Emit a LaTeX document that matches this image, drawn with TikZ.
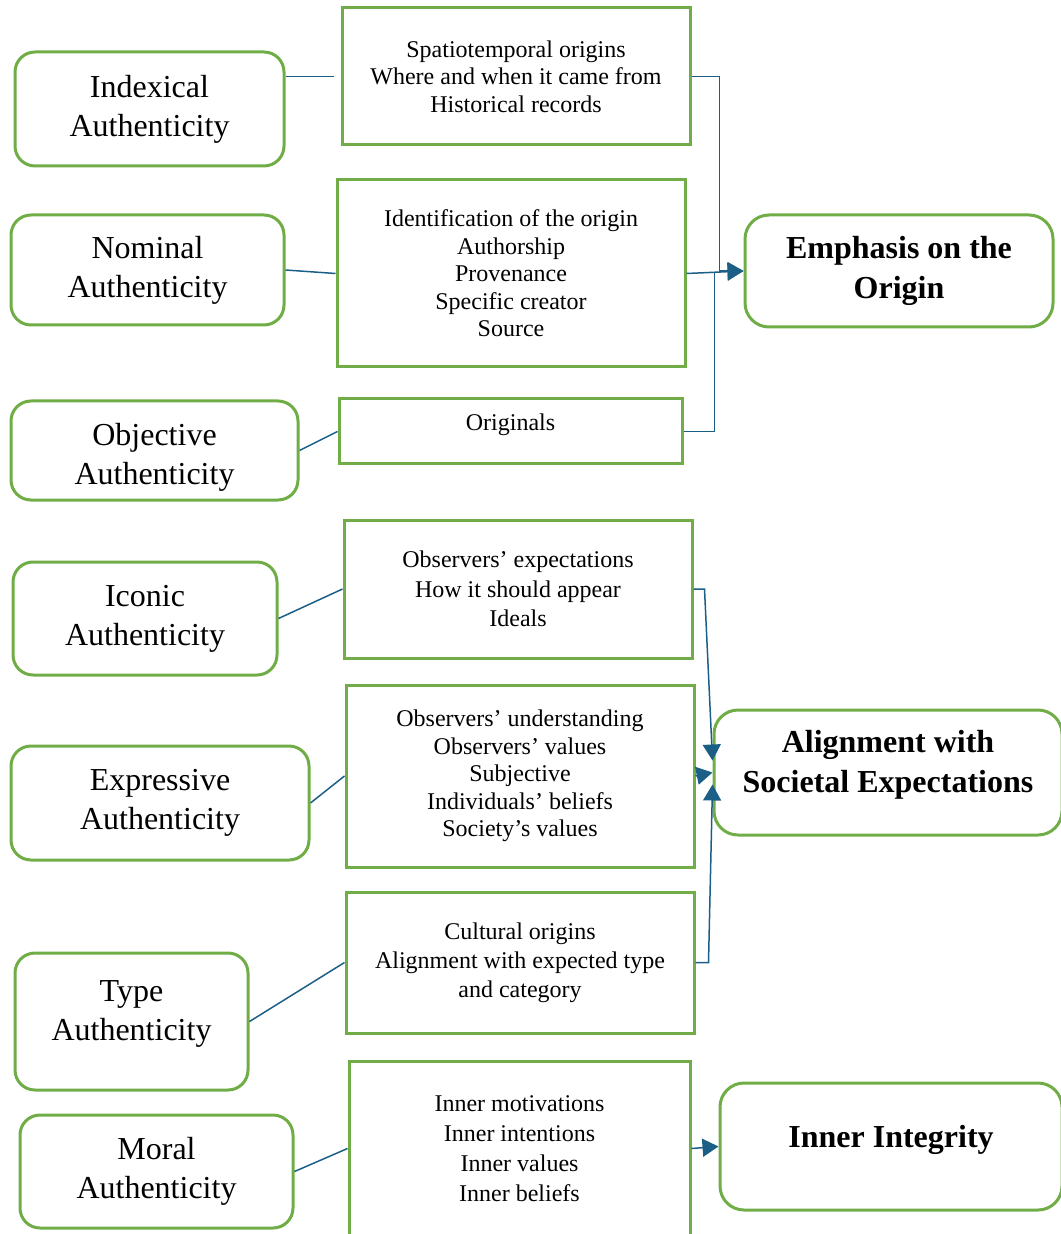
\documentclass[tikz,border=0pt]{standalone}
\usepackage{fontspec}
\setmainfont{Liberation Serif}
\usetikzlibrary{arrows.meta,positioning,calc}

\definecolor{boxgreen}{HTML}{70AD47}
\definecolor{linkblue}{HTML}{1B5F87}

\begin{document}
\begin{tikzpicture}[
  x=0.5pt, y=-0.5pt,
  kind/.style = {draw=boxgreen, line width=1.5pt, rounded corners=10pt, align=center,
                 inner sep=0pt, font=\fontsize{16}{19.5}\selectfont},
  facet/.style = {draw=boxgreen, line width=1.5pt, align=center, inner sep=0pt,
                  font=\fontsize{12}{13.75}\selectfont},
  focus/.style = {draw=boxgreen, line width=1.5pt, rounded corners=12pt, align=center,
                  inner sep=0pt, font=\fontsize{16}{20}\selectfont\bfseries},
  link/.style = {draw=linkblue, line width=0.75pt},
  tip/.style = {link, -{Triangle[length=8pt,width=9pt]}}
]
\useasboundingbox (0,0) rectangle (1060,1234);

% kinds of authenticity
\node[kind, minimum width=134.5pt, minimum height=57pt]   (ind)  at (149.5,109)  {Indexical\\Authenticity};
\node[kind, minimum width=136.5pt, minimum height=55pt]   (nom)  at (147.5,270)  {Nominal\\Authenticity};
\node[kind, minimum width=143.5pt, minimum height=49.5pt, text height=37.5pt] (obj) at (154.5,450.5) {Objective\\Authenticity};
\node[kind, minimum width=132pt,   minimum height=56.5pt] (ico)  at (145,618.5)  {Iconic\\Authenticity};
\node[kind, minimum width=149pt,   minimum height=57pt]   (expr) at (160,803)    {Expressive\\Authenticity};
\node[kind, minimum width=116.5pt, minimum height=68.5pt, text depth=10.5pt] (typ) at (131.5,1021.5) {Type\\Authenticity};
\node[kind, minimum width=136.5pt, minimum height=56.5pt] (mor)  at (156.5,1171.5) {Moral\\Authenticity};

% what each one looks at
\node[facet, minimum width=174pt, minimum height=68.5pt] (spatio) at (516,76.5)
  {Spatiotemporal origins\\Where and when it came from\\Historical records};
\node[facet, minimum width=174pt, minimum height=93.5pt] (ident) at (511,273.5)
  {Identification of the origin\\Authorship\\Provenance\\Specific creator\\Source};
\node[facet, minimum width=171.5pt, minimum height=32.5pt, text depth=9pt] (origl) at (510.5,431.5)
  {Originals};
\node[facet, minimum width=174pt, minimum height=69pt, font=\fontsize{12}{14.75}\selectfont] (expect) at (518,589)
  {Observers’ expectations\\How it should appear\\Ideals};
\node[facet, minimum width=174pt, minimum height=91pt] (underst) at (520,776)
  {Observers’ understanding\\Observers’ values\\Subjective\\Individuals’ beliefs\\Society’s values};
\node[facet, minimum width=174pt, minimum height=70.5pt, font=\fontsize{12}{14.5}\selectfont] (cultur) at (520,962.5)
  {Cultural origins\\Alignment with expected type\\and category};
\node[facet, minimum width=170.5pt, minimum height=87.5pt, font=\fontsize{12}{15}\selectfont] (inner) at (519.5,1148.5)
  {Inner motivations\\Inner intentions\\Inner values\\Inner beliefs};

% what they share
\node[focus, minimum width=154pt, minimum height=56pt] (emph) at (899,271)
  {Emphasis on the\\Origin};
\node[focus, minimum width=174pt, minimum height=62.5pt, text depth=11.5pt] (align) at (888,772.5)
  {Alignment with\\Societal Expectations};
\node[focus, minimum width=171pt, minimum height=63.5pt, text depth=10pt] (integ) at (891,1146.5)
  {Inner Integrity};

% kind -- facet
\draw[link] (ind.east |- spatio.west) -- ([xshift=-3.5pt]spatio.west);
\draw[link] (nom.east) -- (ident.west);
\draw[link] (obj.east) -- (origl.west);
\draw[link] (ico.east) -- (expect.west);
\draw[link] (expr.east) -- (underst.west);
\draw[link] (typ.east) -- (cultur.west);
\draw[link] (mor.east) -- (inner.west);

% facet -> focus
\draw[tip] (spatio.east) -- ++(28,0) |- (emph.west);
\draw[tip] (ident.east) -- (emph.west);
\draw[link] (origl.east) -| ([xshift=14pt]ident.east);
\draw[tip] (expect.east) -- ++(11,0) -- ([yshift=6pt]align.west);
\draw[tip] (underst.east) -- (align.west);
\draw[tip] (cultur.east) -- ++(13,0) -- ([yshift=-6pt]align.west);
\draw[tip] (inner.east) -- (integ.west);

\end{tikzpicture}
\end{document}
